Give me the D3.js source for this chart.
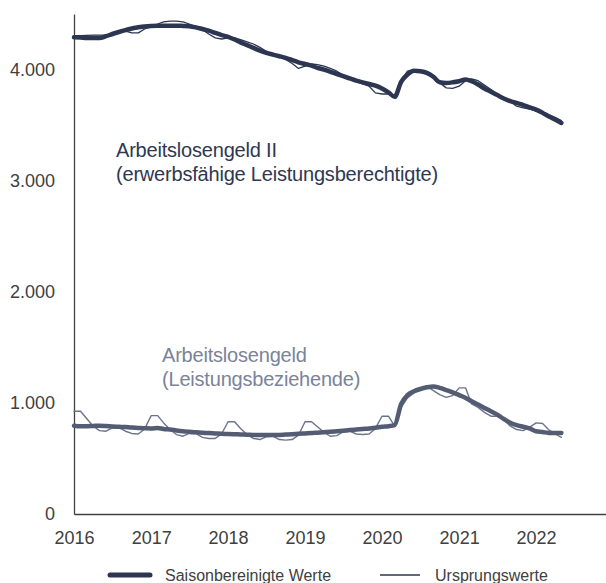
<!DOCTYPE html>
<html>
<head>
<meta charset="utf-8">
<script src="https://cdn.jsdelivr.net/npm/d3@7"></script>
<style>
    body { margin: 0; background: #fff; }
    svg { display: block; font-family: "Liberation Sans", Arial, sans-serif; }
</style>
</head>
<body>
<svg id="chart" width="606" height="583"></svg>
<script>
    // monthly values in thousands, Jan 2016 .. May 2022
    var startYear = 2016;
    var yearTicks = [2016, 2017, 2018, 2019, 2020, 2021, 2022];
    var valueTicks = [0, 1000, 2000, 3000, 4000];

    var alg2Sa = [
        4290, 4288, 4285, 4285, 4285, 4300, 4320, 4338, 4355, 4370, 4380, 4388,
        4393, 4395, 4395, 4395, 4395, 4393, 4390, 4380, 4365, 4350, 4330, 4310,
        4295, 4270, 4245, 4220, 4195, 4170, 4150, 4135, 4120, 4105, 4085, 4065,
        4050, 4035, 4015, 4000, 3980, 3960, 3940, 3920, 3900, 3885, 3870, 3855,
        3830, 3795, 3755, 3890, 3955, 3990, 3985, 3970, 3935, 3885, 3880, 3885,
        3895, 3910, 3895, 3865, 3830, 3800, 3770, 3740, 3715, 3700, 3680, 3660,
        3640, 3610, 3580, 3550, 3520
    ];
    var alg2Orig = [
        4305, 4305, 4308, 4310, 4310, 4312, 4318, 4330, 4345, 4330, 4330, 4365,
        4385, 4410, 4430, 4435, 4435, 4430, 4410, 4385, 4360, 4320, 4285, 4275,
        4285, 4285, 4270, 4250, 4230, 4200, 4165, 4140, 4120, 4090, 4055, 4010,
        4030, 4050, 4045, 4030, 4010, 3985, 3950, 3920, 3895, 3870, 3850, 3790,
        3780, 3780, 3760, 3900, 3985, 4000, 3990, 3965, 3930, 3880, 3835, 3830,
        3850, 3900, 3915, 3900, 3860, 3820, 3780, 3745, 3710, 3670, 3655, 3645,
        3625, 3610, 3595, 3570, 3540
    ];
    var algSa = [
        795, 790, 790, 792, 795, 792, 788, 785, 782, 778, 775, 772,
        770, 775, 765, 760, 752, 745, 740, 735, 732, 728, 725, 722,
        720, 718, 716, 714, 712, 712, 711, 710, 712, 715, 718, 722,
        725, 728, 732, 736, 740, 745, 750, 755, 760, 765, 770, 776,
        785, 790, 800, 990, 1070, 1105, 1125, 1140, 1148, 1135, 1115, 1095,
        1070, 1045, 1015, 985, 955, 925, 895, 855, 820, 800, 785, 770,
        745, 738, 730, 728, 730
    ];
    var algOrig = [
        925, 925, 860, 790, 750, 745, 775, 780, 745, 725, 720, 765,
        885, 885, 820, 760, 715, 700, 725, 725, 690, 680, 680, 720,
        830, 830, 770, 715, 680, 670, 695, 700, 670, 665, 670, 710,
        830, 830, 785, 735, 700, 705, 740, 745, 720, 715, 720, 770,
        880, 880, 790, 960, 1045, 1090, 1130, 1150, 1110, 1075, 1050, 1065,
        1135, 1135, 990, 960, 915, 880, 880, 850, 790, 760, 750, 780,
        820, 815, 760, 720, 690
    ];

    var svg = d3.select("#chart");
    var left = 74, bottom = 514;

    var x = d3.scaleTime()
        .domain([new Date(startYear, 0, 1), new Date(startYear + 7, 0, 1)])
        .range([left, left + 7 * 77]);
    var y = d3.scaleLinear()
        .domain([0, 4500])
        .range([bottom, 14]);

    var de = d3.formatLocale({ decimal: ",", thousands: ".", grouping: [3], currency: ["", " €"] });
    var fmt = de.format(",.0f");

    function monthDate(i) {
        return new Date(startYear, i, 1);
    }

    function drawLine(values, color, width, curve) {
        var line = d3.line()
            .x(function (d, i) { return x(monthDate(i)); })
            .y(function (d) { return y(d); })
            .curve(curve);
        svg.append("path")
            .datum(values)
            .attr("fill", "none")
            .attr("stroke", color)
            .attr("stroke-width", width)
            .attr("stroke-linejoin", "round")
            .attr("stroke-linecap", "round")
            .attr("d", line);
    }

    // axes
    var yAxis = svg.append("g")
        .attr("transform", "translate(" + left + ",0)")
        .call(d3.axisLeft(y).tickValues(valueTicks).tickSize(0).tickPadding(19).tickFormat(fmt));
    var xAxis = svg.append("g")
        .attr("transform", "translate(0," + bottom + ")")
        .call(d3.axisBottom(x)
            .tickValues(yearTicks.map(function (yr) { return new Date(yr, 0, 1); }))
            .tickSize(0).tickPadding(17)
            .tickFormat(d3.timeFormat("%Y")));
    [yAxis, xAxis].forEach(function (g) {
        g.select(".domain").attr("stroke", "#404040").attr("stroke-width", 1.3);
        g.selectAll("text")
            .attr("fill", "#404040")
            .style("font-size", "18px")
            .style("font-family", "'Liberation Sans', Arial, sans-serif");
    });

    // series
    drawLine(algOrig, "#6b748d", 1.4, d3.curveLinear);
    drawLine(algSa, "#535c73", 4.5, d3.curveMonotoneX);
    drawLine(alg2Orig, "#2c3650", 1.3, d3.curveLinear);
    drawLine(alg2Sa, "#2c3650", 4.5, d3.curveMonotoneX);

    // series labels
    function label(lines, lx, ly, color) {
        var t = svg.append("text")
            .attr("x", lx)
            .attr("y", ly)
            .attr("fill", color)
            .style("font-size", "20px")
            .style("letter-spacing", "-0.2px");
        lines.forEach(function (s, i) {
            t.append("tspan").attr("x", lx).attr("dy", i ? 24 : 0).text(s);
        });
    }
    label(["Arbeitslosengeld II", "(erwerbsfähige Leistungsberechtigte)"], 116, 157, "#2e3852");
    label(["Arbeitslosengeld", "(Leistungsbeziehende)"], 162, 362, "#7a839a");

    // legend
    var legend = svg.append("g");
    legend.append("line")
        .attr("x1", 110).attr("x2", 150).attr("y1", 575).attr("y2", 575)
        .attr("stroke", "#2c3650").attr("stroke-width", 5).attr("stroke-linecap", "round");
    legend.append("text")
        .attr("x", 165).attr("y", 581)
        .attr("fill", "#404040").style("font-size", "16px")
        .text("Saisonbereinigte Werte");
    legend.append("line")
        .attr("x1", 380).attr("x2", 420).attr("y1", 575).attr("y2", 575)
        .attr("stroke", "#2c3650").attr("stroke-width", 1.3);
    legend.append("text")
        .attr("x", 435).attr("y", 581)
        .attr("fill", "#404040").style("font-size", "16px")
        .text("Ursprungswerte");
</script>
</body>
</html>
